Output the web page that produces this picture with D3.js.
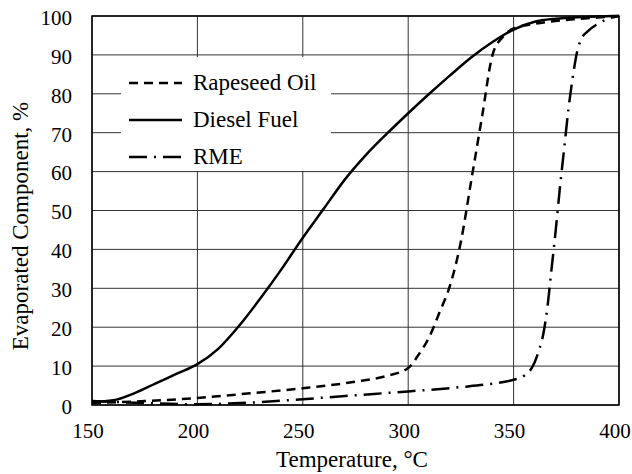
<!DOCTYPE html>
<html>
<head>
<meta charset="utf-8">
<script src="https://cdn.jsdelivr.net/npm/d3@7"></script>
<style>
  body { margin: 0; background: #fff; }
  svg { display: block; font-family: "Liberation Serif", "Times New Roman", serif; }
</style>
</head>
<body>
<svg id="chart"></svg>
<script>
// temperature (°C) / evaporated share (%)
const dieselT = [150, 160, 170, 180, 190, 200, 210, 220, 230, 240, 250, 260, 270, 280, 290, 300, 310, 320, 330, 340, 350, 360, 370, 380, 390, 400];
const dieselV = [0.8, 1.2, 3, 5.5, 8, 10.5, 14.5, 20.5, 27.5, 35, 43, 50.5, 58, 64.3, 69.8, 75, 80, 84.8, 89.4, 93.3, 96.5, 98.5, 99.3, 99.7, 99.9, 100];

const rapeT = [150, 175, 200, 225, 250, 275, 290, 300, 305, 310, 315, 320, 325, 330, 335, 340, 345, 350, 360, 375, 390, 400];
const rapeV = [0.5, 1, 1.8, 3, 4.3, 6, 7.5, 9.5, 13, 17.5, 24, 31, 42, 58, 74, 90, 94.7, 96.8, 98, 99, 99.6, 100];

const rmeT = [150, 160, 175, 200, 225, 250, 275, 300, 325, 340, 350, 355, 358, 360, 362, 364, 366, 368, 370, 372, 374, 376, 378, 380, 382, 385, 390, 395, 400];
const rmeV = [1, 0.8, 0.5, 0.2, 0.6, 1.5, 2.5, 3.5, 4.6, 5.5, 6.5, 7.5, 9, 11, 14, 18, 25, 35, 45, 56, 66, 76, 84, 90.5, 94, 96, 98, 99.3, 100];

const xTicks = [150, 200, 250, 300, 350, 400];
const yTicks = [0, 10, 20, 30, 40, 50, 60, 70, 80, 90, 100];

const seriesNames = ["Rapeseed Oil", "Diesel Fuel", "RME"];
const seriesDash = ["9,6", null, "18,7,2,7"];

const width = 632, height = 474;
const margin = { top: 16, right: 13, bottom: 69, left: 92 };

const svg = d3.select("#chart").attr("width", width).attr("height", height);

const x = d3.scaleLinear().domain([150, 400]).range([margin.left, width - margin.right]);
const y = d3.scaleLinear().domain([0, 100]).range([height - margin.bottom, margin.top]);

// grid
svg.append("g").selectAll("line.h")
  .data(yTicks)
  .enter().append("line")
  .attr("x1", x(150)).attr("x2", x(400))
  .attr("y1", d => y(d)).attr("y2", d => y(d))
  .attr("stroke", "#333").attr("stroke-width", 1);

svg.append("g").selectAll("line.v")
  .data(xTicks)
  .enter().append("line")
  .attr("x1", d => x(d)).attr("x2", d => x(d))
  .attr("y1", y(0)).attr("y2", y(100))
  .attr("stroke", "#333").attr("stroke-width", 1);

// frame
svg.append("rect")
  .attr("x", x(150)).attr("y", y(100))
  .attr("width", x(400) - x(150)).attr("height", y(0) - y(100))
  .attr("fill", "none").attr("stroke", "#000").attr("stroke-width", 1.5);

// tick labels
svg.append("g").selectAll("text")
  .data(yTicks)
  .enter().append("text")
  .attr("x", 72).attr("y", d => y(d) + 4)
  .attr("text-anchor", "end").attr("dominant-baseline", "middle")
  .style("font-size", "21px")
  .text(d => d);

svg.append("g").selectAll("text")
  .data(xTicks)
  .enter().append("text")
  .attr("x", d => x(d) - 4).attr("y", 438)
  .attr("text-anchor", "middle")
  .style("font-size", "21px")
  .text(d => d);

// axis titles
svg.append("text")
  .attr("x", 352).attr("y", 467)
  .attr("text-anchor", "middle")
  .style("font-size", "23px")
  .text("Temperature, °C");

svg.append("text")
  .attr("transform", `translate(28, 226) rotate(-90)`)
  .attr("text-anchor", "middle")
  .style("font-size", "23px")
  .text("Evaporated Component, %");

// legend box (hides the grid behind it)
svg.append("rect")
  .attr("x", 121).attr("y", 57)
  .attr("width", 210).attr("height", 114)
  .attr("fill", "#fff");

const line = d3.line()
  .x(d => x(d[0])).y(d => y(d[1]))
  .curve(d3.curveMonotoneX);

const series = [
  d3.zip(rapeT, rapeV),
  d3.zip(dieselT, dieselV),
  d3.zip(rmeT, rmeV)
];

svg.append("g").selectAll("path")
  .data(series)
  .enter().append("path")
  .attr("d", line)
  .attr("fill", "none")
  .attr("stroke", "#000")
  .attr("stroke-width", 2.5)
  .attr("stroke-dasharray", (d, i) => seriesDash[i]);

// legend
const legendY = [83, 120, 157];
const lg = svg.append("g").selectAll("g")
  .data(seriesNames)
  .enter().append("g")
  .attr("transform", (d, i) => `translate(129, ${legendY[i]})`);

lg.append("line")
  .attr("x1", 0).attr("x2", 53)
  .attr("stroke", "#000").attr("stroke-width", 2.5)
  .attr("stroke-dasharray", (d, i) => seriesDash[i]);

lg.append("text")
  .attr("x", 64).attr("y", 7)
  .style("font-size", "23px")
  .text(d => d);
</script>
</body>
</html>
